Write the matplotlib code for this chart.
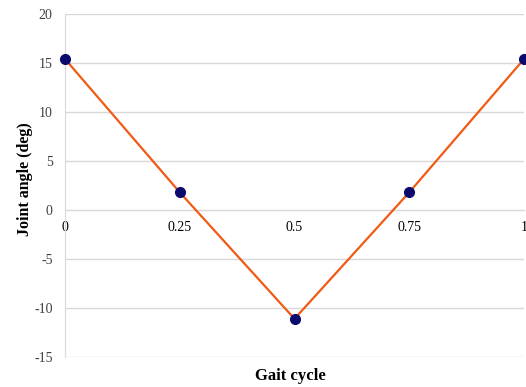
import matplotlib.pyplot as plt

plt.rcParams['font.family'] = ['Liberation Serif', 'DejaVu Serif']

gait_cycle = [0, 0.25, 0.5, 0.75, 1]
joint_angle = [15.4, 1.8, -11.1, 1.8, 15.4]
x_ticks = [0, 0.25, 0.5, 0.75, 1]
x_tick_labels = ['0', '0.25', '0.5', '0.75', '1']
y_ticks = [-15, -10, -5, 0, 5, 10, 15, 20]


def main():
    fig = plt.figure(figsize=(5.26, 3.87), dpi=100)
    ax = fig.add_axes([0.1236, 0.0775, 0.8726, 0.8865])

    ax.plot(gait_cycle, joint_angle, color='#f05a14', linewidth=1.6, zorder=3)
    ax.plot(gait_cycle, joint_angle, linestyle='none', marker='o', markersize=7,
            color='#0b0b6e', zorder=4, clip_on=False)

    ax.set_xlim(0, 1)
    ax.set_ylim(-15, 20)
    ax.set_yticks(y_ticks)
    ax.set_yticklabels([str(v) for v in y_ticks], fontsize=10, color='#404040')
    ax.set_xticks(x_ticks)
    ax.set_xticklabels(x_tick_labels, fontsize=10, color='#404040')

    ax.grid(axis='y', color='#d9d9d9', linewidth=1)
    ax.set_axisbelow(True)

    for side in ['top', 'right']:
        ax.spines[side].set_visible(False)
    ax.spines['left'].set_color('#d9d9d9')
    ax.spines['bottom'].set_position(('data', 0))
    ax.spines['bottom'].set_color('#d9d9d9')
    ax.tick_params(axis='both', length=0)
    ax.tick_params(axis='x', pad=8)
    ax.tick_params(axis='y', pad=9)

    ax.set_xlabel('Gait cycle', fontsize=12, fontweight='bold')
    ax.xaxis.set_label_coords(0.492, -0.032)
    ax.set_ylabel('Joint angle (deg)', fontsize=11.5, fontweight='bold')
    ax.yaxis.set_label_coords(-0.07, 0.519)

    fig.savefig('out.png', dpi=100)


if __name__ == '__main__':
    main()
